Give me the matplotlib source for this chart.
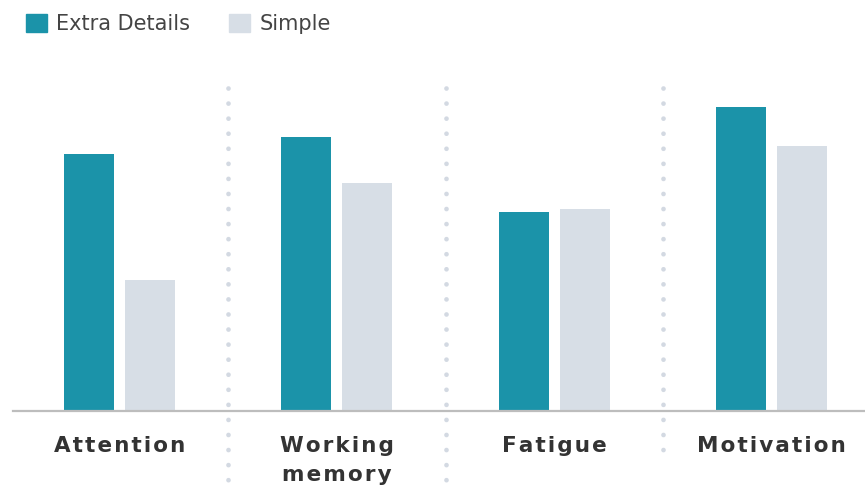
import numpy as np
import matplotlib.pyplot as plt
from matplotlib.patches import Patch

categories = ["Attention", "Working\nmemory", "Fatigue", "Motivation"]
extra_details = [257, 274, 199, 304]
simple = [131, 228, 202, 265]

TEAL = "#1b93a9"
GREY = "#d7dee6"
TEXT = "#333333"


def spaced(s):
    # widen the tracking of the category labels with hair spaces
    return "\n".join("\u200a".join(line) for line in s.split("\n"))


def main():
    fig = plt.figure(figsize=(8.65, 4.9), dpi=100)
    ax = fig.add_axes([13 / 865, 79 / 490, 852 / 865, 331 / 490])

    x = np.arange(len(categories))
    w = 0.23
    off = 0.14
    ax.bar(x - off, extra_details, w, color=TEAL, label="Extra Details", zorder=2)
    ax.bar(x + off, simple, w, color=GREY, label="Simple", zorder=2)

    ax.set_xlim(-0.49, 3.43)
    ax.set_ylim(0, 331)

    # dotted separators between the groups
    trans = ax.get_xaxis_transform()
    for sx, bottom in [(0.5, -0.24), (1.5, -0.24), (2.5, -0.148)]:
        ax.plot([sx, sx], [0.976, bottom], transform=trans, color="#d3d9e2",
                lw=3.4, linestyle=(0, (0.01, 3.18)), dash_capstyle="round",
                solid_capstyle="round", clip_on=False, zorder=1)

    for side in ["top", "right", "left"]:
        ax.spines[side].set_visible(False)
    ax.spines["bottom"].set_color("#bdbdbd")
    ax.spines["bottom"].set_linewidth(1.6)
    ax.set_yticks([])
    ax.set_xticks([])

    for xi, name in zip(x, categories):
        ax.text(xi, -0.075, spaced(name), transform=trans, ha="center", va="top",
                fontsize=15.5, fontweight="bold", color=TEXT, linespacing=1.55)

    handles = [Patch(color=TEAL, label="Extra Details"),
               Patch(color=GREY, label="Simple")]
    fig.legend(handles=handles, loc="upper left", bbox_to_anchor=(0.008, 1.01),
               ncol=2, frameon=False, fontsize=15, handlelength=1.0,
               handleheight=1.0, handletextpad=0.45, columnspacing=1.9,
               labelcolor="#444444")

    fig.savefig("out.png", dpi=100)


if __name__ == "__main__":
    main()
